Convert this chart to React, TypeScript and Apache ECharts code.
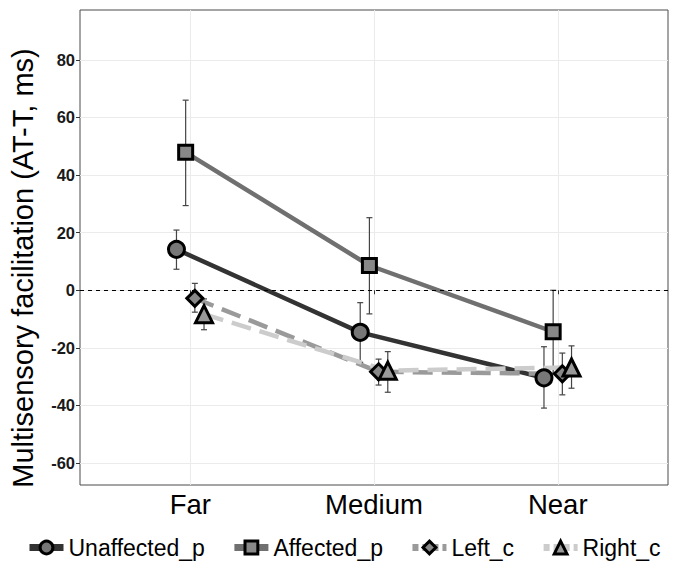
import React, { useEffect, useRef } from "react";
import * as echarts from "echarts";

const categories = ["Far", "Medium", "Near"];
const seriesNames = ["Unaffected_p", "Affected_p", "Left_c", "Right_c"];

const unaffectedMean = [14.2, -14.6, -30.4];
const unaffectedLow = [7.3, -25.0, -40.9];
const unaffectedHigh = [20.9, -4.3, -19.6];

const affectedMean = [47.9, 8.6, -14.4];
const affectedLow = [29.4, -8.2, -28.8];
const affectedHigh = [66.0, 25.2, 0.0];

const leftMean = [-2.8, -28.3, -29.0];
const leftLow = [-7.6, -32.9, -36.3];
const leftHigh = [2.4, -23.9, -21.8];

const rightMean = [-8.3, -27.9, -26.8];
const rightLow = [-13.7, -35.4, -34.0];
const rightHigh = [-3.0, -21.3, -19.3];

const yTicks = [-60, -40, -20, 0, 20, 40, 60, 80];
const xTicks = [1, 2, 3];
const yTitle = "Multisensory facilitation (AT-T, ms)";

const means = [unaffectedMean, affectedMean, leftMean, rightMean];
const lows = [unaffectedLow, affectedLow, leftLow, rightLow];
const highs = [unaffectedHigh, affectedHigh, leftHigh, rightHigh];

const dodge = [-0.075, -0.025, 0.025, 0.075];
const lineColors = ["#333333", "#707070", "#9a9a9a", "#cccccc"];
const lineTypes: any[] = ["solid", "solid", [20, 9], [20, 9]];
const symbols = ["circle", "rect", "diamond", "triangle"];
const symbolSizes = [16, 14, 16, 17];
const fillColors = ["#777777", "#888888", "#888888", "#999999"];

const FONT = "'Liberation Sans', Arial, Helvetica, sans-serif";

export default function App() {
  const ref = useRef<HTMLDivElement>(null);
  useEffect(() => {
    if (!ref.current) return;
    const chart = echarts.init(ref.current, null, { renderer: "svg" });

    const lineSeries = seriesNames.map((name, i) => ({
      name,
      type: "line",
      z: 3,
      data: categories.map((_, c) => [c + 1 + dodge[i], means[i][c]]),
      symbol: symbols[i],
      symbolSize: symbolSizes[i],
      showSymbol: true,
      lineStyle: { color: lineColors[i], width: 4.5, type: lineTypes[i] },
      itemStyle: { color: fillColors[i], borderColor: "#000000", borderWidth: 3 },
      emphasis: { disabled: true },
      markLine:
        i === 0
          ? {
              silent: true,
              symbol: ["none", "none"],
              label: { show: false },
              lineStyle: { color: "#000000", type: [4, 4], width: 1 },
              data: [{ yAxis: 0 }],
            }
          : undefined,
    }));

    const errSeries = seriesNames.map((name, i) => ({
      name: "err_" + name,
      type: "custom",
      z: 2,
      data: categories.map((_, c) => [c + 1 + dodge[i], lows[i][c], highs[i][c]]),
      encode: { x: 0, y: [1, 2] },
      renderItem: (params: any, api: any) => {
        const x = api.value(0);
        const pLo = api.coord([x, api.value(1)]);
        const pHi = api.coord([x, api.value(2)]);
        const w = 3;
        const st = { stroke: "#444444", lineWidth: 1.2 };
        return {
          type: "group",
          children: [
            { type: "line", shape: { x1: pLo[0], y1: pLo[1], x2: pHi[0], y2: pHi[1] }, style: st },
            { type: "line", shape: { x1: pLo[0] - w, y1: pLo[1], x2: pLo[0] + w, y2: pLo[1] }, style: st },
            { type: "line", shape: { x1: pHi[0] - w, y1: pHi[1], x2: pHi[0] + w, y2: pHi[1] }, style: st },
          ],
        };
      },
    }));

    chart.setOption({
      animation: false,
      backgroundColor: "#ffffff",
      grid: {
        left: 80,
        right: 12,
        top: 10,
        bottom: 86,
        show: true,
        borderColor: "#4a4a4a",
        borderWidth: 1,
        backgroundColor: "transparent",
      },
      graphic: [
        {
          type: "text",
          x: 23,
          y: 268,
          rotation: Math.PI / 2,
          style: {
            text: yTitle,
            font: "29px " + FONT,
            fill: "#000000",
            textAlign: "center",
            textVerticalAlign: "middle",
          },
        },
      ],
      legend: {
        data: seriesNames.map((name, i) => ({
          name,
          lineStyle: { width: 7, type: i >= 2 ? [6, 4] : "solid" },
          itemStyle: { borderWidth: 3 },
        })),
        left: 26,
        width: 654,
        bottom: 12,
        padding: 0,
        itemWidth: 34,
        itemHeight: 16,
        itemGap: 26,
        textStyle: { fontSize: 23, color: "#000000", fontFamily: FONT },
      },
      xAxis: {
        type: "value",
        min: 0.4,
        max: 3.6,
        axisLine: { show: false },
        axisTick: { show: true, length: 4, lineStyle: { color: "#333" }, customValues: xTicks },
        splitLine: { show: true, lineStyle: { color: "#ebebeb", width: 1 } },
        axisLabel: {
          customValues: xTicks,
          formatter: (v: number) => categories[Math.round(v) - 1] ?? "",
          fontSize: 27.5,
          color: "#000000",
          fontFamily: FONT,
          margin: 5,
        },
      },
      yAxis: {
        type: "value",
        min: -67.6,
        max: 97.3,
        axisLine: { show: false },
        axisTick: { show: true, length: 4, lineStyle: { color: "#333" }, customValues: yTicks },
        splitLine: { show: true, lineStyle: { color: "#ebebeb", width: 1 } },
        axisLabel: {
          customValues: yTicks,
          fontSize: 16.5,
          fontWeight: "bold",
          color: "#1a1a1a",
          fontFamily: FONT,
          margin: 5,
        },
      },
      series: [...errSeries, ...lineSeries],
    });

    return () => chart.dispose();
  }, []);

  return <div ref={ref} style={{ width: 680, height: 571, margin: -8 }} />;
}
